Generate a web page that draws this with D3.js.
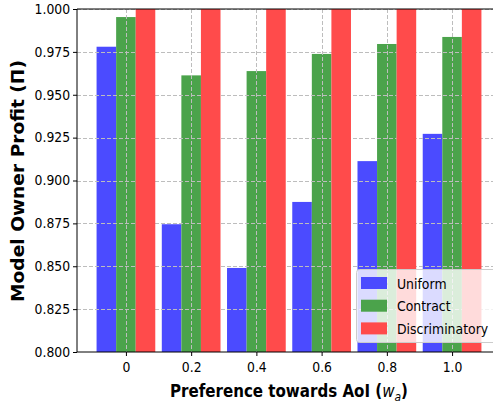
<!DOCTYPE html>
<html>
<head>
<meta charset="utf-8">
<script src="https://cdn.jsdelivr.net/npm/d3@7"></script>
<style>
  body { margin: 0; background: #fff; }
  svg { display: block; font-family: "DejaVu Sans", sans-serif; }
</style>
</head>
<body>
<div id="chart"></div>
<script>
'use strict';

var categories = ['0', '0.2', '0.4', '0.6', '0.8', '1.0'];
var seriesNames = ['Uniform', 'Contract', 'Discriminatory'];
var uniform = [0.978, 0.8745, 0.849, 0.8875, 0.9113, 0.9272];
var contract = [0.9953, 0.9613, 0.9638, 0.9738, 0.9796, 0.9837];
var discriminatory = [1.0, 1.0, 1.0, 1.0, 1.0, 1.0];
var yTicks = [0.800, 0.825, 0.850, 0.875, 0.900, 0.925, 0.950, 0.975, 1.000];
var colors = ['#4b4bff', '#4ba34b', '#ff4b4b'];

var width = 493, height = 405;
var margin = { left: 77, top: 9, bottom: 352 };
var plotRight = 501;
var barW = 0.3;

var svg = d3.select('#chart').append('svg')
  .attr('width', width)
  .attr('height', height);

var x = d3.scaleLinear().domain([-0.75, 5.75]).range([margin.left, plotRight]);
var y = d3.scaleLinear().domain([0.8, 1.0]).range([margin.bottom, margin.top]);

svg.append('clipPath').attr('id', 'plot-clip')
  .append('rect')
  .attr('x', margin.left).attr('y', margin.top)
  .attr('width', plotRight - margin.left).attr('height', margin.bottom - margin.top);

var plot = svg.append('g').attr('clip-path', 'url(#plot-clip)');

function drawBars(values, offset, color) {
  plot.append('g').selectAll('rect')
    .data(values)
    .enter().append('rect')
    .attr('x', function(d, i) { return x(i + offset - barW / 2); })
    .attr('width', x(barW) - x(0))
    .attr('y', function(d) { return y(d); })
    .attr('height', function(d) { return y(0.8) - y(d); })
    .attr('fill', color);
}

drawBars(uniform, -barW, colors[0]);
drawBars(contract, 0, colors[1]);

// grid (sits over blue/green, under red like the original)
var grid = plot.append('g')
  .attr('stroke', '#bdbdbd')
  .attr('stroke-width', 1)
  .attr('stroke-dasharray', '4,2');
grid.selectAll('.gy').data(yTicks).enter().append('line')
  .attr('x1', margin.left).attr('x2', plotRight)
  .attr('y1', function(d) { return Math.round(y(d)) + 0.5; })
  .attr('y2', function(d) { return Math.round(y(d)) + 0.5; });
grid.selectAll('.gx').data(categories).enter().append('line')
  .attr('x1', function(d, i) { return Math.round(x(i)) + 0.5; })
  .attr('x2', function(d, i) { return Math.round(x(i)) + 0.5; })
  .attr('y1', margin.top).attr('y2', margin.bottom);

drawBars(discriminatory, barW, colors[2]);

// axes
var yAxis = d3.axisLeft(y).tickValues(yTicks).tickFormat(d3.format('.3f')).tickSize(4).tickPadding(3);
var gy = svg.append('g').attr('transform', 'translate(' + margin.left + ',0)').call(yAxis);
var xAxis = d3.axisBottom(x).tickValues(d3.range(categories.length))
  .tickFormat(function(d) { return categories[d]; }).tickSize(4).tickPadding(6);
var gx = svg.append('g').attr('transform', 'translate(0,' + margin.bottom + ')').call(xAxis);

[gx, gy].forEach(function(g) {
  g.select('.domain').remove();
  g.selectAll('.tick line').attr('stroke', '#000').attr('stroke-width', 1);
  g.selectAll('.tick text').attr('fill', '#000').style('font-size', '13.5px')
    .style('font-family', '"DejaVu Sans", sans-serif');
});
gy.selectAll('.tick text').attr('x', -7.5).attr('transform', 'scale(0.92,1)');
gx.selectAll('.tick text').attr('transform', 'scale(0.92,1)');

// spines
svg.append('line').attr('x1', margin.left).attr('x2', margin.left)
  .attr('y1', margin.top).attr('y2', margin.bottom).attr('stroke', '#000');
svg.append('line').attr('x1', margin.left).attr('x2', width)
  .attr('y1', margin.top).attr('y2', margin.top).attr('stroke', '#000');
svg.append('line').attr('x1', margin.left).attr('x2', width)
  .attr('y1', margin.bottom).attr('y2', margin.bottom).attr('stroke', '#000');

// squeeze a text element to a target length
function fitWidth(sel, target) {
  var w = sel.node().getBBox().width;
  return w ? target / w : 1;
}

// y label
var yl = svg.append('text')
  .attr('text-anchor', 'middle')
  .style('font-size', '18px').style('font-weight', 'bold')
  .text('Model Owner Profit (\u03A0)');
var ys = fitWidth(yl, 242);
yl.attr('transform', 'translate(24,181) rotate(-90) scale(' + ys + ',1)');

// x label
var xl = svg.append('text')
  .attr('text-anchor', 'middle')
  .style('font-size', '17.5px').style('font-weight', 'bold');
xl.append('tspan').text('Preference towards AoI (');
xl.append('tspan').style('font-weight', 'normal').style('font-style', 'italic').text('w');
xl.append('tspan').style('font-weight', 'normal').style('font-style', 'italic')
  .style('font-size', '12.5px').attr('dy', 3.5).text('a');
xl.append('tspan').attr('dy', -3.5).text(')');
var xs = fitWidth(xl, 238);
xl.attr('transform', 'translate(289,397) scale(' + xs + ',1)');

// legend
var legend = svg.append('g').attr('transform', 'translate(356,269)');
legend.append('rect')
  .attr('x', 0.5).attr('y', 0.5).attr('width', 145).attr('height', 73)
  .attr('rx', 3)
  .attr('fill', '#fff').attr('fill-opacity', 0.8)
  .attr('stroke', '#cccccc');
var items = legend.selectAll('.item').data(seriesNames).enter().append('g')
  .attr('transform', function(d, i) { return 'translate(5,' + (8 + i * 22.7) + ')'; });
items.append('rect').attr('width', 26).attr('height', 12)
  .attr('fill', function(d, i) { return colors[i]; });
items.append('text')
  .attr('transform', 'translate(36,11.5) scale(0.86,1)')
  .style('font-size', '14.5px')
  .text(function(d) { return d; });
</script>
</body>
</html>
